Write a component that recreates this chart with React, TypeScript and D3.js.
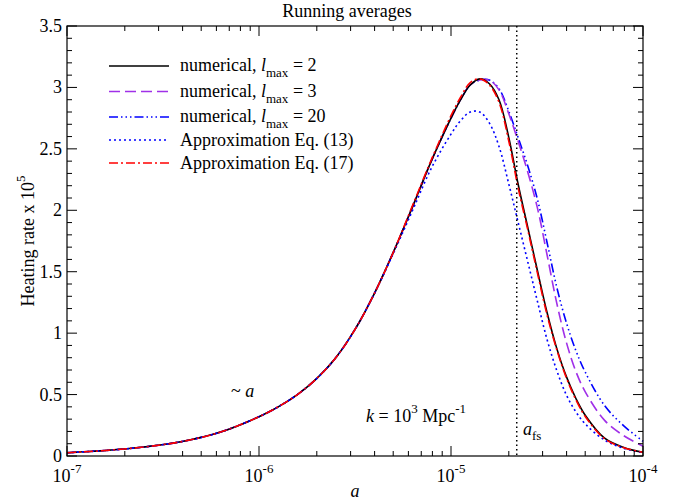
import React from 'react';
import * as d3 from 'd3';

// log10(a) grid shared by all curves
const logA = [-7, -6.8, -6.6, -6.4, -6.2, -6.0, -5.9, -5.8, -5.7, -5.6, -5.5, -5.4, -5.3, -5.2, -5.1, -5.0,
  -4.95, -4.9, -4.85, -4.8, -4.75, -4.7, -4.65, -4.6, -4.55, -4.5, -4.45, -4.4, -4.35, -4.3, -4.2, -4.1, -4.0];

const lmax2 = [0.027, 0.045, 0.073, 0.118, 0.195, 0.32, 0.40, 0.50, 0.63, 0.80, 1.03, 1.32, 1.66, 2.03, 2.41, 2.75,
  2.90, 3.02, 3.07, 3.03, 2.90, 2.60, 2.21, 1.86, 1.51, 1.17, 0.88, 0.65, 0.47, 0.33, 0.145, 0.07, 0.03];
const lmax3 = [0.027, 0.045, 0.073, 0.118, 0.195, 0.32, 0.40, 0.50, 0.63, 0.80, 1.03, 1.32, 1.66, 2.03, 2.41, 2.75,
  2.90, 3.02, 3.06, 3.06, 2.98, 2.79, 2.56, 2.31, 2.02, 1.64, 1.25, 0.93, 0.69, 0.52, 0.29, 0.165, 0.08];
const lmax20 = [0.027, 0.045, 0.073, 0.118, 0.195, 0.32, 0.40, 0.50, 0.63, 0.80, 1.03, 1.32, 1.66, 2.03, 2.41, 2.75,
  2.90, 3.02, 3.06, 3.06, 2.99, 2.81, 2.59, 2.36, 2.09, 1.74, 1.38, 1.09, 0.86, 0.68, 0.41, 0.245, 0.12];
const approx13 = [0.027, 0.045, 0.073, 0.118, 0.195, 0.32, 0.40, 0.50, 0.63, 0.80, 1.03, 1.32, 1.65, 2.00, 2.35, 2.62,
  2.73, 2.80, 2.80, 2.71, 2.52, 2.22, 1.90, 1.58, 1.26, 0.95, 0.70, 0.50, 0.36, 0.26, 0.13, 0.062, 0.028];
const approx17 = [0.027, 0.045, 0.073, 0.118, 0.195, 0.32, 0.40, 0.50, 0.63, 0.80, 1.03, 1.32, 1.66, 2.04, 2.42, 2.77,
  2.92, 3.04, 3.07, 3.02, 2.88, 2.57, 2.18, 1.84, 1.49, 1.15, 0.87, 0.64, 0.46, 0.32, 0.14, 0.068, 0.03];

const aFreeStream = 2.2e-5;
const xDomain = [1e-7, 1e-4];
const yDomain = [0, 3.5];
const xMajor = [1e-7, 1e-6, 1e-5, 1e-4];
const xMajorExp = ['-7', '-6', '-5', '-4'];
const yMajor = [0, 0.5, 1, 1.5, 2, 2.5, 3, 3.5];

const series = [
  { name: 'lmax20', values: lmax20, color: '#0000ff', dash: '9,3,1.5,3,1.5,3,1.5,3' },
  { name: 'lmax3', values: lmax3, color: '#a030e8', dash: '11,5' },
  { name: 'lmax2', values: lmax2, color: '#000000', dash: null },
  { name: 'eq13', values: approx13, color: '#0000ff', dash: '2,3' },
  { name: 'eq17', values: approx17, color: '#ff0000', dash: '9,3,2,3' },
];

const legendItems = [
  { key: 'lmax2', color: '#000000', dash: null, label: 'l', num: '2' },
  { key: 'lmax3', color: '#a030e8', dash: '11,5', label: 'l', num: '3' },
  { key: 'lmax20', color: '#0000ff', dash: '9,3,1.5,3,1.5,3,1.5,3', label: 'l', num: '20' },
  { key: 'eq13', color: '#0000ff', dash: '2,3', text: 'Approximation Eq. (13)' },
  { key: 'eq17', color: '#ff0000', dash: '9,3,2,3', text: 'Approximation Eq. (17)' },
];
const legendRowY = [66, 91.5, 117, 140, 163];

const W = 677;
const H = 504;
const m = { left: 67, right: 643, top: 26, bottom: 456 };
const font = '"Liberation Serif", "Times New Roman", serif';

export default function App() {
  const x = d3.scaleLog().domain(xDomain).range([m.left, m.right]);
  const y = d3.scaleLinear().domain(yDomain).range([m.bottom, m.top]);

  const line = d3.line<[number, number]>()
    .x(d => x(d[0]))
    .y(d => y(d[1]))
    .curve(d3.curveCatmullRom.alpha(0.5));

  const xMinor: number[] = [];
  for (let e = -7; e < -4; e++) {
    for (let k = 2; k <= 9; k++) xMinor.push(k * Math.pow(10, e));
  }
  const yMinor = d3.range(0, 3.5001, 0.1).filter(v => Math.abs(v * 2 - Math.round(v * 2)) > 1e-6);

  const tick = (x1: number, y1: number, x2: number, y2: number, key: string) => (
    <line key={key} x1={x1} y1={y1} x2={x2} y2={y2} stroke="#000" strokeWidth={1} />
  );

  return (
    <svg width={W} height={H} style={{ position: 'absolute', left: 0, top: 0, background: '#fff' }}
      fontFamily={font}>
      <rect x={0} y={0} width={W} height={H} fill="#fff" />
      <text x={347} y={17} fontSize={18} textAnchor="middle">Running averages</text>

      {/* curves */}
      <g fill="none">
        {series.map(s => (
          <path key={s.name}
            d={line(s.values.map((v, i) => [Math.pow(10, logA[i]), v] as [number, number])) || ''}
            stroke={s.color} strokeWidth={1.6} strokeDasharray={s.dash || undefined} />
        ))}
      </g>

      {/* free-streaming scale */}
      <line x1={x(aFreeStream)} x2={x(aFreeStream)} y1={m.top} y2={m.bottom}
        stroke="#000" strokeWidth={1.5} strokeDasharray="1.5,3" />

      {/* frame */}
      <rect x={m.left} y={m.top} width={m.right - m.left} height={m.bottom - m.top}
        fill="none" stroke="#000" strokeWidth={1.2} />

      {/* x ticks */}
      {xMajor.map((v, i) => (
        <g key={'xm' + i}>
          {tick(x(v), m.bottom, x(v), m.bottom - 10, 'b')}
          {tick(x(v), m.top, x(v), m.top + 10, 't')}
          <text x={x(v)} y={482} fontSize={18} textAnchor="middle">
            10<tspan fontSize={13} dy={-9}>{xMajorExp[i]}</tspan>
          </text>
        </g>
      ))}
      {xMinor.map((v, i) => (
        <g key={'xn' + i}>
          {tick(x(v), m.bottom, x(v), m.bottom - 5, 'b')}
          {tick(x(v), m.top, x(v), m.top + 5, 't')}
        </g>
      ))}

      {/* y ticks */}
      {yMajor.map((v, i) => (
        <g key={'ym' + i}>
          {tick(m.left, y(v), m.left + 10, y(v), 'l')}
          {tick(m.right, y(v), m.right - 10, y(v), 'r')}
          <text x={62} y={y(v) + 6} fontSize={18} textAnchor="end">{String(v)}</text>
        </g>
      ))}
      {yMinor.map((v, i) => (
        <g key={'yn' + i}>
          {tick(m.left, y(v), m.left + 5, y(v), 'l')}
          {tick(m.right, y(v), m.right - 5, y(v), 'r')}
        </g>
      ))}

      {/* axis titles */}
      <text x={355} y={497} fontSize={18} fontStyle="italic" textAnchor="middle">a</text>
      <text transform={`translate(34,${(m.top + m.bottom) / 2}) rotate(-90)`} fontSize={18} textAnchor="middle">
        Heating rate x 10<tspan fontSize={13} dy={-9}>5</tspan>
      </text>

      {/* legend */}
      {legendItems.map((it, i) => (
        <g key={it.key}>
          <line x1={109} x2={169} y1={legendRowY[i]} y2={legendRowY[i]} stroke={it.color}
            strokeWidth={1.6} strokeDasharray={it.dash || undefined} />
          {it.text ? (
            <text x={180} y={legendRowY[i] + 6} fontSize={18}>{it.text}</text>
          ) : (
            <text x={180} y={legendRowY[i] + 5} fontSize={18}>
              numerical, <tspan fontStyle="italic">{it.label}</tspan>
              <tspan fontSize={13} dy={6}>max</tspan>
              <tspan dy={-6}> = {it.num}</tspan>
            </text>
          )}
        </g>
      ))}

      {/* annotations */}
      <text x={231} y={397} fontSize={18}>~ <tspan fontStyle="italic">a</tspan></text>
      <text x={366} y={422} fontSize={18}>
        <tspan fontStyle="italic">k</tspan> = 10<tspan fontSize={13} dy={-9}>3</tspan>
        <tspan dy={9}> Mpc</tspan><tspan fontSize={13} dy={-9}>-1</tspan>
      </text>
      <text x={523} y={435} fontSize={18}>
        <tspan fontStyle="italic">a</tspan><tspan fontSize={13} dy={5}>fs</tspan>
      </text>
    </svg>
  );
}
